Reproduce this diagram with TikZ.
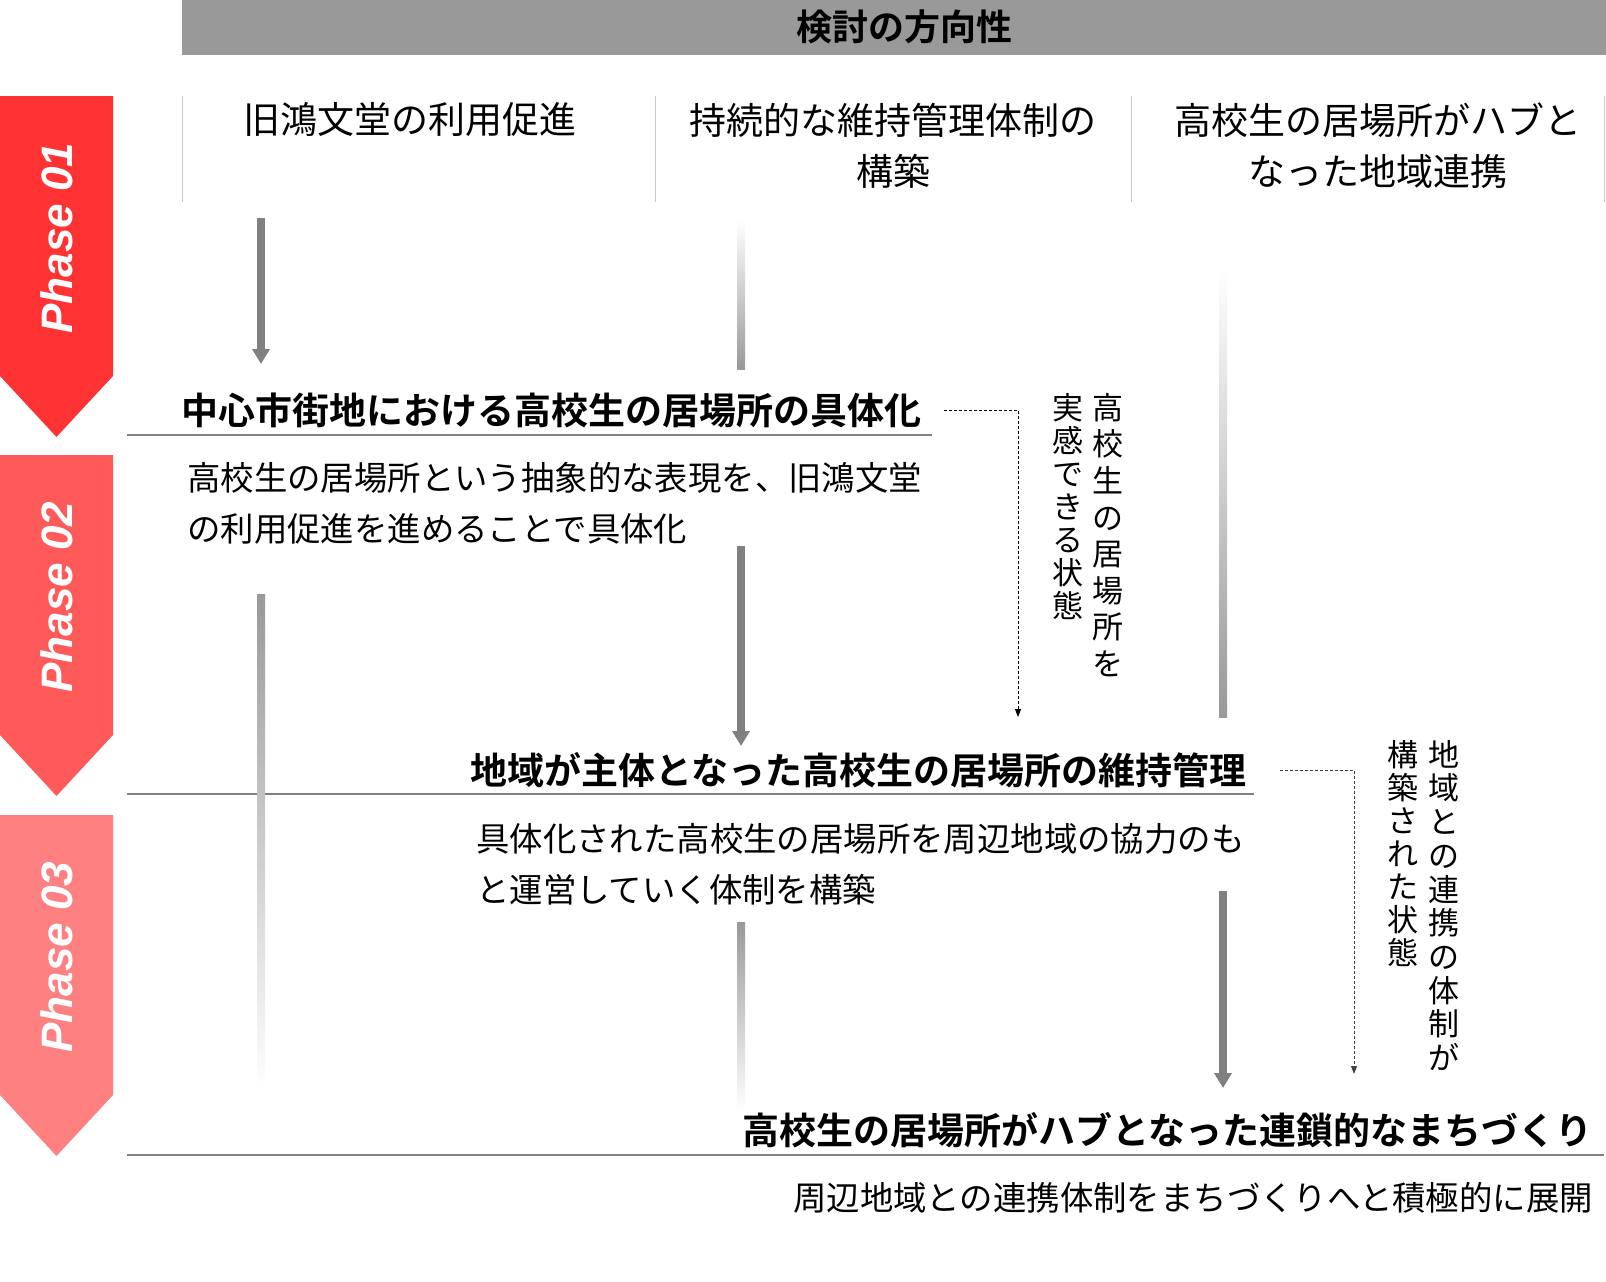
\documentclass[tikz,border=0pt]{standalone}
\usepackage{fontspec}
\setmainfont{Noto Sans CJK JP}[BoldFont={Noto Sans CJK JP Bold}]
\newfontfamily\phasefont{Liberation Sans}
\usetikzlibrary{arrows.meta,positioning}
\definecolor{phaseA}{HTML}{FF3333}
\definecolor{phaseB}{HTML}{FF5A5A}
\definecolor{phaseC}{HTML}{FF8080}
\definecolor{bargray}{HTML}{999999}
\definecolor{flowgray}{HTML}{808080}
\definecolor{rulegray}{HTML}{C8C8C8}

\begin{document}
\begin{tikzpicture}[
    x=1pt, y=-1pt,
    inner sep=0pt,
    heading/.style={font=\fontsize{36pt}{40pt}\selectfont\bfseries},
    colhead/.style={font=\fontsize{37pt}{51pt}\selectfont, align=center},
    title/.style={font=\fontsize{37pt}{40pt}\selectfont\bfseries, anchor=east},
    body/.style={font=\fontsize{33.4pt}{51pt}\selectfont, align=left},
    vtextwide/.style={font=\fontsize{31pt}{36.6pt}\selectfont, align=center, anchor=north},
    vtext/.style={font=\fontsize{31pt}{33pt}\selectfont, align=center, anchor=north},
    phasetext/.style={font=\phasefont\fontsize{44pt}{48pt}\selectfont\bfseries\itshape, text=white, rotate=90},
    flow/.style={-{Triangle[width=17pt,length=15pt]}, line width=8pt, draw=flowgray},
    fadedown/.style={top color=bargray, bottom color=white},
    fadeup/.style={top color=white, bottom color=bargray},
    note/.style={-{Triangle[width=6pt,length=8pt]}, dash pattern=on 3pt off 2pt, line width=1pt},
    divider/.style={draw=rulegray, line width=1pt},
    underline/.style={draw=flowgray, line width=1.5pt}
  ]
    \useasboundingbox (0,0) rectangle (1606,1282);

    % header
    \fill[bargray] (182,0) rectangle (1606,55);
    \node[heading] (head) at (904,27) {検討の方向性};

    % columns
    \draw[divider] (182,96) -- (182,202);
    \draw[divider] (655,96) -- (655,202);
    \draw[divider] (1131,96) -- (1131,202);
    \draw[divider] (1604,96) -- (1604,202);
    \node[colhead] (col1) at (410,120) {旧鴻文堂の利用促進};
    \node[colhead] (col2) at (893,145.5) {持続的な維持管理体制の\\構築};
    \node[colhead] (col3) at (1378,145.5) {高校生の居場所がハブと\\なった地域連携};

    % phases
    \fill[phaseA] (0,96) -- (113,96) -- (113,376) -- (56.5,437) -- (0,376) -- cycle;
    \node[phasetext] (ph1) at (56.5,238) {Phase 01};
    \fill[phaseB] (0,455) -- (113,455) -- (113,735) -- (56.5,796) -- (0,735) -- cycle;
    \node[phasetext] (ph2) at (56.5,597) {Phase 02};
    \fill[phaseC] (0,815) -- (113,815) -- (113,1095) -- (56.5,1156) -- (0,1095) -- cycle;
    \node[phasetext] (ph3) at (56.5,957) {Phase 03};

    % phase 01
    \node[title] (t1) at (922,410) {中心市街地における高校生の居場所の具体化};
    \draw[underline] (127,435) -- (932,435);
    \node[body, anchor=west] (b1) at (187,503.5) {高校生の居場所という抽象的な表現を、旧鴻文堂\\の利用促進を進めることで具体化};
    \node[vtextwide] (v1a) at (1108,393) {高\\校\\生\\の\\居\\場\\所\\を};
    \node[vtext] (v1b) at (1068,393) {実\\感\\で\\き\\る\\状\\態};
    \coordinate (n1) at (1018,717);
    \draw[note] ([xshift=22pt]t1.east) -| (n1);

    % phase 02
    \node[title] (t2) at (1247,770) {地域が主体となった高校生の居場所の維持管理};
    \draw[underline] (127,794) -- (1254,794);
    \node[body, anchor=west] (b2) at (476,864.5) {具体化された高校生の居場所を周辺地域の協力のも\\と運営していく体制を構築};
    \node[vtext, font=\fontsize{31pt}{33.7pt}\selectfont] (v2a) at (1444,740) {地\\域\\と\\の\\連\\携\\の\\体\\制\\が};
    \node[vtext] (v2b) at (1403,740) {構\\築\\さ\\れ\\た\\状\\態};
    \coordinate (n2) at (1354,1074);
    \draw[note, draw=black!75] ([xshift=33pt]t2.east) -| (n2);

    % phase 03
    \node[title] (t3) at (1593,1130) {高校生の居場所がハブとなった連鎖的なまちづくり};
    \draw[underline] (127,1155) -- (1604,1155);
    \node[body, anchor=east] (b3) at (1593,1198) {周辺地域との連携体制をまちづくりへと積極的に展開};

    % flows
    \coordinate (a1s) at (261,218);
    \coordinate (a1e) at (261,364);
    \draw[flow] (a1s) -- (a1e);
    \shade[fadeup] (737,220) rectangle (745,369);
    \shade[fadeup] (1219,266) rectangle (1227,717);
    \shade[fadedown] (257,594) rectangle (265,1091);
    \coordinate (a2s) at (741,546);
    \coordinate (a2e) at (741,746);
    \draw[flow] (a2s) -- (a2e);
    \shade[fadedown] (737,922) rectangle (745,1111);
    \coordinate (a3s) at (1223,891);
    \coordinate (a3e) at (1223,1088);
    \draw[flow] (a3s) -- (a3e);
  \end{tikzpicture}
\end{document}
